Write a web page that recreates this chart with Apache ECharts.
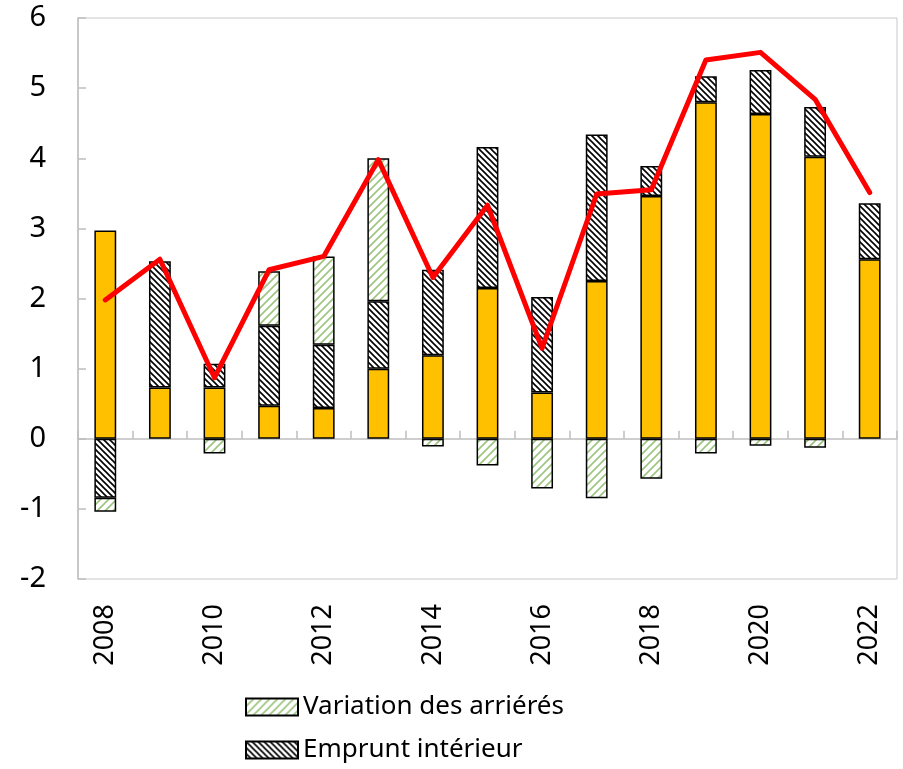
<!DOCTYPE html>
<html>
<head>
<meta charset="utf-8">
<script src="https://cdn.jsdelivr.net/npm/echarts@6/dist/echarts.min.js"></script>
<style>
  html, body { margin: 0; padding: 0; background: #fff; }
  #chart { width: 903px; height: 769px; }
</style>
</head>
<body>
<div id="chart"></div>
<script>
// Years on the horizontal axis
const years = ['2008','2009','2010','2011','2012','2013','2014','2015','2016','2017','2018','2019','2020','2021','2022'];
// Financement extérieur (solid orange bars)
const financementExterieur = [2.97, 0.73, 0.73, 0.47, 0.44, 1.00, 1.19, 2.15, 0.66, 2.25, 3.46, 4.80, 4.63, 4.02, 2.56];
// Emprunt intérieur (black hatched bars)
const empruntInterieur = [-0.84, 1.80, 0.34, 1.14, 0.90, 0.96, 1.22, 2.01, 1.36, 2.09, 0.43, 0.37, 0.63, 0.71, 0.80];
// Variation des arriérés (green hatched bars)
const variationArrieres = [-0.20, 0.00, -0.21, 0.78, 1.26, 2.04, -0.11, -0.38, -0.71, -0.85, -0.57, -0.21, -0.10, -0.13, 0.00];
// Déficit global (red line)
const deficitGlobal = [1.98, 2.56, 0.87, 2.41, 2.60, 3.98, 2.30, 3.33, 1.29, 3.49, 3.55, 5.40, 5.51, 4.84, 3.51];

const FONT = 'Noto Sans';

// Zero-height segments are skipped so no stray outline is drawn at the axis
const skipZero = arr => arr.map(v => (v === 0 ? '-' : v));

// Small repeating tile with diagonal stripes
function hatchTile(size, color, lineWidth, direction) {
  const c = document.createElement('canvas');
  c.width = size; c.height = size;
  const g = c.getContext('2d');
  g.fillStyle = '#ffffff';
  g.fillRect(0, 0, size, size);
  g.strokeStyle = color;
  g.lineWidth = lineWidth;
  g.beginPath();
  for (let k = -1; k <= 1; k++) {
    const o = k * size;
    if (direction === 'down') {
      g.moveTo(o - 1, -1); g.lineTo(o + size + 1, size + 1);
    } else {
      g.moveTo(o - 1, size + 1); g.lineTo(o + size + 1, -1);
    }
  }
  g.stroke();
  return { image: c, repeat: 'repeat' };
}

const empruntFill = hatchTile(6, '#000000', 1.6, 'down');
const arrieresFill = hatchTile(8, '#9cc57f', 1.6, 'up');

const chart = echarts.init(document.getElementById('chart'), null, { renderer: 'canvas' });

const barCommon = {
  type: 'bar',
  stack: 'total',
  barWidth: '40%',
  xAxisIndex: 0
};

chart.setOption({
  animation: false,
  textStyle: { fontFamily: FONT },
  grid: {
    left: 78, right: 6, top: 18, bottom: 190,
    show: true, borderColor: '#c8c8c8', borderWidth: 1, backgroundColor: 'transparent'
  },
  legend: {
    data: ['Variation des arriérés', 'Emprunt intérieur'],
    orient: 'vertical',
    left: 240,
    top: 689,
    icon: 'rect',
    itemWidth: 52,
    itemHeight: 17,
    itemGap: 17,
    selectedMode: false,
    textStyle: { fontFamily: FONT, fontSize: 26, color: '#000', lineHeight: 26 }
  },
  xAxis: [
    {
      type: 'category',
      data: years,
      axisLine: { onZero: true, lineStyle: { color: '#bfbfbf', width: 1.5 } },
      axisTick: { show: true, inside: true, length: 8, interval: 0, lineStyle: { color: '#bfbfbf', width: 1.5 } },
      axisLabel: { show: false },
      splitLine: { show: false }
    },
    {
      type: 'category',
      data: years,
      position: 'bottom',
      axisLine: { show: false, onZero: false },
      axisTick: { show: false },
      axisLabel: {
        show: true, interval: 1, rotate: 90, margin: 25,
        fontFamily: FONT, fontSize: 27, color: '#000'
      },
      splitLine: { show: false }
    }
  ],
  yAxis: {
    type: 'value',
    min: -2, max: 6, interval: 1,
    axisLine: { show: true, lineStyle: { color: '#bfbfbf', width: 1.5 } },
    axisTick: { show: true, inside: true, length: 8, lineStyle: { color: '#bfbfbf', width: 1.5 } },
    axisLabel: { margin: 32, fontFamily: FONT, fontSize: 29, color: '#000' },
    splitLine: { show: false }
  },
  series: [
    Object.assign({}, barCommon, {
      name: 'Financement extérieur',
      data: skipZero(financementExterieur),
      itemStyle: { color: '#ffc000', borderColor: '#000', borderWidth: 1.5 }
    }),
    Object.assign({}, barCommon, {
      name: 'Emprunt intérieur',
      data: skipZero(empruntInterieur),
      itemStyle: { color: empruntFill, borderColor: '#000', borderWidth: 1.5 }
    }),
    Object.assign({}, barCommon, {
      name: 'Variation des arriérés',
      data: skipZero(variationArrieres),
      itemStyle: { color: arrieresFill, borderColor: '#000', borderWidth: 1.5 }
    }),
    {
      name: 'Déficit global',
      type: 'line',
      xAxisIndex: 0,
      data: deficitGlobal,
      symbol: 'none',
      z: 5,
      lineStyle: { color: '#ff0000', width: 5, cap: 'round', join: 'round' }
    }
  ]
});
</script>
</body>
</html>
